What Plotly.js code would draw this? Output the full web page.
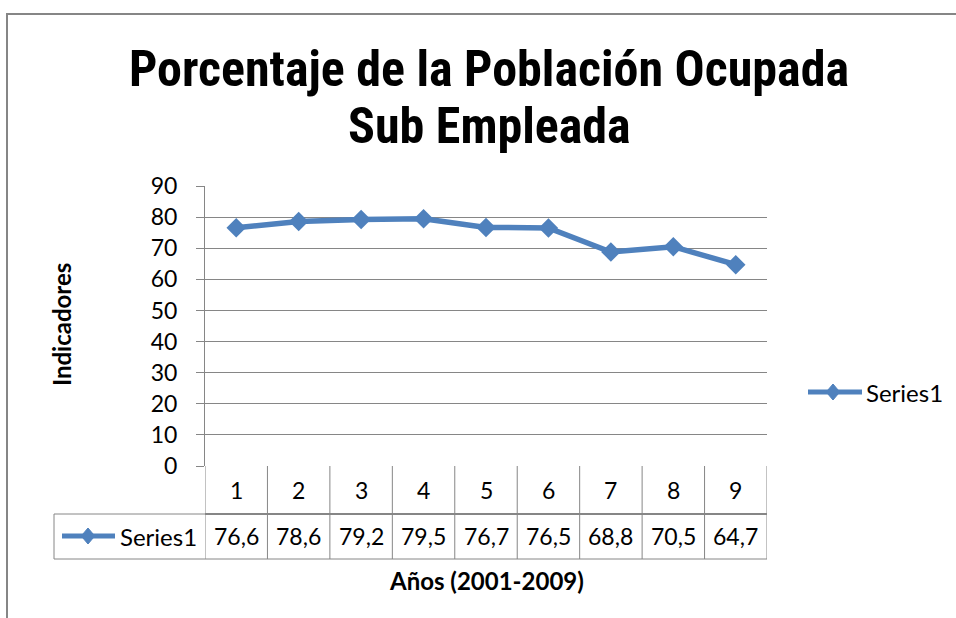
<!DOCTYPE html>
<html>
<head>
<meta charset="utf-8">
<script src="https://cdn.plot.ly/plotly-3.0.1.min.js"></script>
<style>html,body{margin:0;padding:0;background:#fff;}#chart{width:956px;height:618px;}</style>
</head>
<body>
<div id="chart"></div>
<script>
// ---- data ----
const categories = [1, 2, 3, 4, 5, 6, 7, 8, 9];
const seriesName = "Series1";
const values = [76.6, 78.6, 79.2, 79.5, 76.7, 76.5, 68.8, 70.5, 64.7];
const yTicks = [0, 10, 20, 30, 40, 50, 60, 70, 80, 90];
const titleLines = ["Porcentaje de la Población Ocupada", "Sub Empleada"];
const xTitle = "Años (2001-2009)";
const yTitle = "Indicadores";

// ---- layout helpers (pixel -> paper) ----
const W = 956, H = 618;
const L = 205, R = 767, T = 186, B = 466;
const px = p => (p - L) / (R - L);
const py = p => (B - p) / (B - T);
const FONT = "Lato, 'Open Sans', sans-serif";
const TFONT = "'Liberation Sans Narrow', 'Roboto Condensed', Lato, sans-serif";
const BLUE = "#4F81BD";
const GRID = "#868686";

const shapes = [];
const annotations = [];

// outer chart border
shapes.push({type: "rect", xref: "paper", yref: "paper", x0: px(7), x1: px(980), y0: py(640), y1: py(14),
  line: {color: GRID, width: 2}, fillcolor: "rgba(0,0,0,0)", layer: "below"});

// data table rows
const row1Bottom = 514, row2Bottom = 559, tableLeft = 54;
shapes.push({type: "line", xref: "paper", yref: "paper", x0: px(L), x1: px(R), y0: py(row1Bottom), y1: py(row1Bottom), line: {color: GRID, width: 2}});
shapes.push({type: "line", xref: "paper", yref: "paper", x0: px(tableLeft), x1: px(L), y0: py(row1Bottom), y1: py(row1Bottom), line: {color: GRID, width: 1}});
shapes.push({type: "line", xref: "paper", yref: "paper", x0: px(tableLeft), x1: px(R), y0: py(row2Bottom), y1: py(row2Bottom), line: {color: GRID, width: 1}});
shapes.push({type: "line", xref: "paper", yref: "paper", x0: px(tableLeft), x1: px(tableLeft), y0: py(row1Bottom), y1: py(row2Bottom), line: {color: GRID, width: 1}});
// vertical separators at category boundaries
for (let i = 0; i <= categories.length; i++) {
  const xb = i === 0 ? categories[0] - 0.5 : categories[i - 1] + 0.5;
  shapes.push({type: "line", xref: "x", yref: "paper", x0: xb, x1: xb, y0: py(B), y1: py(row2Bottom), line: {color: GRID, width: 1}});
}
// category labels and values
categories.forEach((c, i) => {
  annotations.push({xref: "x", yref: "paper", x: c, y: py(490), text: String(c), showarrow: false,
    font: {family: FONT, size: 23, color: "#000"}, xanchor: "center", yanchor: "middle"});
  annotations.push({xref: "x", yref: "paper", x: c, y: py(536), text: values[i].toFixed(1).replace(".", ","), showarrow: false,
    font: {family: FONT, size: 23, color: "#000"}, xanchor: "center", yanchor: "middle"});
});
// legend keys (line + diamond)
function legendKey(x0, x1, xc, yc, dk) {
  shapes.push({type: "line", xref: "paper", yref: "paper", x0: px(x0), x1: px(x1), y0: py(yc), y1: py(yc), line: {color: BLUE, width: 5}});
  shapes.push({type: "path", xref: "paper", yref: "paper",
    path: `M ${px(xc)} ${py(yc - dk)} L ${px(xc + dk * 0.85)} ${py(yc)} L ${px(xc)} ${py(yc + dk)} L ${px(xc - dk * 0.85)} ${py(yc)} Z`,
    fillcolor: BLUE, line: {color: BLUE, width: 1}});
}
legendKey(62, 115, 88, 536, 8);
annotations.push({xref: "paper", yref: "paper", x: px(118), y: py(536), text: seriesName, showarrow: false,
  font: {family: FONT, size: 24, color: "#000"}, xanchor: "left", yanchor: "middle"});
// side legend
legendKey(808, 862, 833, 392, 8);
annotations.push({xref: "paper", yref: "paper", x: px(864), y: py(392), text: seriesName, showarrow: false,
  font: {family: FONT, size: 24, color: "#000"}, xanchor: "left", yanchor: "middle"});

// titles
annotations.push({xref: "paper", yref: "paper", x: px(489), y: py(69), text: titleLines[0], showarrow: false,
  font: {family: TFONT, size: 50, color: "#000", weight: "bold"}, xanchor: "center", yanchor: "middle"});
annotations.push({xref: "paper", yref: "paper", x: px(489), y: py(126), text: titleLines[1], showarrow: false,
  font: {family: TFONT, size: 50, color: "#000", weight: "bold"}, xanchor: "center", yanchor: "middle"});
annotations.push({xref: "paper", yref: "paper", x: px(486), y: py(580), text: xTitle, showarrow: false,
  font: {family: FONT, size: 24, color: "#000", weight: "bold"}, xanchor: "center", yanchor: "middle"});
annotations.push({xref: "paper", yref: "paper", x: px(61), y: py(325), text: yTitle, showarrow: false, textangle: -90,
  font: {family: FONT, size: 24, color: "#000", weight: "bold"}, xanchor: "center", yanchor: "middle"});

const trace = {
  x: categories, y: values, name: seriesName, type: "scatter", mode: "lines+markers",
  line: {color: BLUE, width: 5.5},
  marker: {symbol: "diamond", size: 15, color: BLUE}
};

const layout = {
  width: W, height: H, autosize: false,
  margin: {l: L, r: W - R, t: T, b: H - B, pad: 0},
  paper_bgcolor: "#fff", plot_bgcolor: "#fff",
  font: {family: FONT, size: 23, color: "#000"},
  showlegend: false,
  xaxis: {range: [categories[0] - 0.5, categories[categories.length - 1] + 0.5], showticklabels: false, showgrid: false,
    zeroline: false, showline: false, ticks: "", fixedrange: true},
  yaxis: {range: [yTicks[0], yTicks[yTicks.length - 1]], tickvals: yTicks, ticktext: yTicks.map(String),
    showgrid: true, gridcolor: GRID, gridwidth: 1, zeroline: false, showline: true, linecolor: GRID, linewidth: 1,
    ticks: "outside", ticklen: 8, tickcolor: GRID, tickfont: {family: FONT, size: 23, color: "#000"}, ticklabelstandoff: 14},
  shapes: shapes,
  annotations: annotations
};

Plotly.newPlot("chart", [trace], layout, {displayModeBar: false, staticPlot: true});
</script>
</body>
</html>
